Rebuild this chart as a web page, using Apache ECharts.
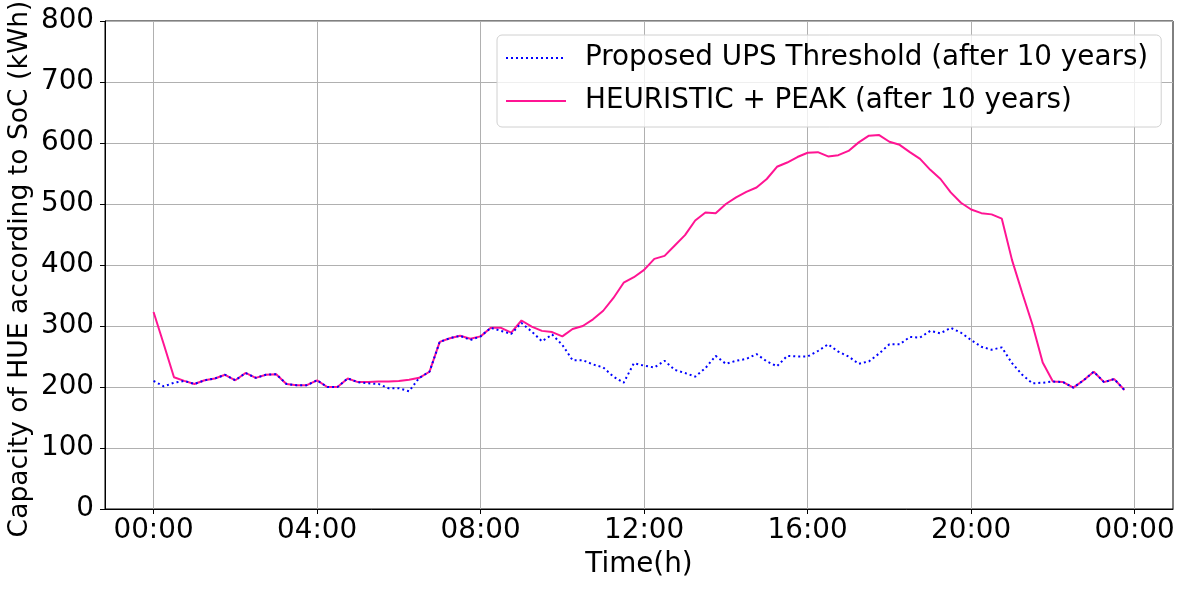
<!DOCTYPE html>
<html>
<head>
<meta charset="utf-8">
<script src="https://cdn.jsdelivr.net/npm/echarts@6/dist/echarts.min.js"></script>
<style>html,body{margin:0;padding:0;background:#fff}#c{width:1185px;height:590px}</style>
</head>
<body>
<div id="c"></div>
<script>
// time in hours, 15-minute steps
const hours = Array.from({length: 96}, (_, i) => i * 0.25);
const xTickValues = [0, 4, 8, 12, 16, 20, 24];
const xTickLabels = ['00:00', '04:00', '08:00', '12:00', '16:00', '20:00', '00:00'];
const yTickValues = [0, 100, 200, 300, 400, 500, 600, 700, 800];

const upsThreshold = [
  210, 201, 207, 210, 205, 211, 214, 220, 211, 223, 215, 220, 221, 205, 203, 203,
  211, 200, 200, 214, 208, 206, 205, 198, 198, 193, 215, 225, 274, 280, 284, 277,
  283, 297, 292, 287, 305, 291, 275, 286, 269, 244, 244, 237, 232, 217, 207, 239,
  235, 232, 243, 228, 223, 217, 231, 251, 238, 243, 246, 254, 242, 234, 251, 250,
  250, 259, 270, 258, 250, 238, 242, 255, 270, 270, 282, 281, 292, 288, 297, 289,
  277, 266, 261, 265, 239, 220, 206, 207, 209, 208, 199, 211, 225, 208, 213, 195
];
const heuristicPeak = [
  323, 270, 216, 210, 205, 211, 214, 220, 211, 223, 215, 220, 221, 205, 203, 203,
  211, 200, 200, 214, 208, 208, 209, 209, 210, 212, 215, 225, 274, 280, 284, 279,
  283, 297, 297, 289, 309, 299, 292, 290, 283, 295, 300, 311, 325, 346, 371, 380,
  392, 410, 415, 432, 449, 473, 486, 485, 500, 511, 520, 527, 541, 561, 568, 577,
  584, 585, 578, 580, 587, 601, 612, 613, 602, 597, 585, 574, 556, 541, 519, 502,
  491, 485, 483, 476, 408, 354, 302, 240, 209, 208, 199, 211, 225, 208, 213, 195
];

const font = 'DejaVu Sans';
const fs = 27.8;
const chart = echarts.init(document.getElementById('c'), null, {renderer: 'canvas'});
chart.setOption({
  animation: false,
  grid: {left: 105, right: 12, top: 21, bottom: 81, show: true, containLabel: false, outerBoundsMode: 'none',
    borderColor: '#000', borderWidth: 1, backgroundColor: 'transparent'},
  legend: {
    orient: 'vertical', left: 497, top: 35,
    padding: [7, 13, 10, 8],
    itemWidth: 60, itemHeight: 14, itemGap: 11,
    borderColor: '#d0d0d0', borderWidth: 1, borderRadius: 5,
    backgroundColor: 'rgba(255,255,255,0.8)',
    itemStyle: {opacity: 0},
    textStyle: {fontFamily: font, fontSize: fs, color: '#000', lineHeight: 32, padding: [0, 0, 0, 14]},
    data: ['Proposed UPS Threshold (after 10 years)', 'HEURISTIC + PEAK (after 10 years)']
  },
  xAxis: {
    type: 'value', min: -1.1875, max: 24.9375,
    name: 'Time(h)', nameLocation: 'middle', nameGap: 42, nameMoveOverlap: false,
    nameTextStyle: {fontFamily: font, fontSize: fs, color: '#000'},
    axisLine: {show: true, onZero: false, lineStyle: {color: '#000', width: 1}},
    axisTick: {show: true, length: 5, lineStyle: {color: '#000'}, customValues: xTickValues},
    axisLabel: {fontFamily: font, fontSize: fs, color: '#000', margin: 8, customValues: xTickValues,
      formatter: v => xTickLabels[xTickValues.indexOf(v)] || ''},
    splitLine: {show: true, lineStyle: {color: '#b0b0b0', width: 1}}
  },
  yAxis: {
    type: 'value', min: 0, max: 800, interval: 100,
    name: 'Capacity of HUE according to SoC (kWh)', nameLocation: 'middle', nameGap: 71, nameMoveOverlap: false,
    nameTextStyle: {fontFamily: font, fontSize: 26.6, color: '#000', padding: [0, 8, 0, 0]},
    axisLine: {show: true, onZero: false, lineStyle: {color: '#000', width: 1}},
    axisTick: {show: true, length: 5, lineStyle: {color: '#000'}},
    axisLabel: {fontFamily: font, fontSize: fs, color: '#000', margin: 11},
    splitLine: {show: true, lineStyle: {color: '#b0b0b0', width: 1}}
  },
  series: [
    {
      name: 'Proposed UPS Threshold (after 10 years)', type: 'line', symbol: 'none',
      data: hours.map((h, i) => [h, upsThreshold[i]]),
      lineStyle: {color: '#0000ff', width: 2, type: [2, 3]}, itemStyle: {color: '#0000ff'}, z: 3
    },
    {
      name: 'HEURISTIC + PEAK (after 10 years)', type: 'line', symbol: 'none',
      data: hours.map((h, i) => [h, heuristicPeak[i]]),
      lineStyle: {color: '#ff1493', width: 2}, itemStyle: {color: '#ff1493'}, z: 2
    }
  ]
});
</script>
</body>
</html>
